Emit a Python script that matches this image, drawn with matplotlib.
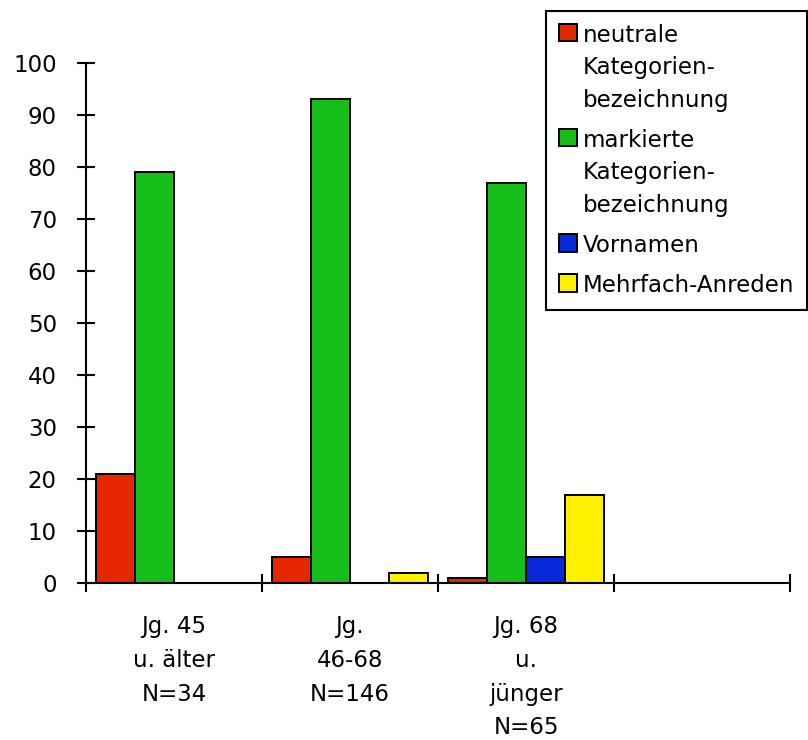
"""
Anredeformen nach Jahrgang: Anteile in Prozent.
"""

import matplotlib
matplotlib.use('Agg')
import matplotlib.pyplot as plt
import numpy as np

plt.rcParams['font.family'] = ['DejaVu Sans']
plt.rcParams['font.size'] = 16.5

groups = ['Jg. 45\nu. älter\nN=34', 'Jg.\n46-68\nN=146', 'Jg. 68\nu.\njünger\nN=65', '']
series = ['neutrale\nKategorien-\nbezeichnung', 'markierte\nKategorien-\nbezeichnung',
          'Vornamen', 'Mehrfach-Anreden']
neutral = [21, 5, 1, 0]
markiert = [79, 93, 77, 0]
vornamen = [0, 0, 5, 0]
mehrfach = [0, 2, 17, 0]
colors = ['#E62600', '#16BE1A', '#0829DA', '#FFF000']

values = [neutral, markiert, vornamen, mehrfach]

fig = plt.figure(figsize=(8.08, 7.4), dpi=100)
ax = fig.add_axes([86/808, 1 - 583/740, (790 - 86)/808, (583 - 63)/740])

w = 0.222
x = np.arange(len(groups)) + 0.5
handles = []
for j, (vals, col) in enumerate(zip(values, colors)):
    pos = x + (j - 1.5)*w
    bars = ax.bar(pos, vals, width=w, color=col, edgecolor='black', linewidth=1.4)
    handles.append(bars)

ax.set_xlim(0, 4)
ax.set_ylim(0, 100)
ax.set_yticks(range(0, 101, 10))

# category labels in the middle, separator ticks on the boundaries
ax.set_xticks(x[:3], groups[:3])
ax.set_xticks(range(0, 5), minor=True)
ax.tick_params(axis='x', which='major', length=0, pad=23)
ax.tick_params(axis='x', which='minor', direction='inout', length=13, width=1.5)
ax.tick_params(axis='y', direction='inout', length=13, width=1.5, pad=14.5)
for t in ax.get_xticklabels():
    t.set_linespacing(1.6)

for side in ['top', 'right']:
    ax.spines[side].set_visible(False)
for side in ['left', 'bottom']:
    ax.spines[side].set_linewidth(1.5)

leg = ax.legend(handles, series, loc='upper right',
                bbox_to_anchor=(807/808, 1 - 11/740), bbox_transform=fig.transFigure,
                borderaxespad=0, fancybox=False, framealpha=1, edgecolor='black',
                handlelength=0.8, handleheight=0.8, handletextpad=0.25,
                borderpad=0.55, labelspacing=0.75)
leg.get_frame().set_linewidth(1.5)
for t in leg.get_texts():
    t.set_linespacing(1.53)

# move each legend square up to the first line of its label
fig.canvas.draw()
for patch, text in zip(leg.legend_handles, leg.get_texts()):
    tb = text.get_window_extent()
    pb = patch.get_window_extent()
    shift = (tb.y1 - pb.y1)*72/fig.dpi
    patch.set_y(patch.get_y() + shift)

fig.savefig('out.png', dpi=100)
